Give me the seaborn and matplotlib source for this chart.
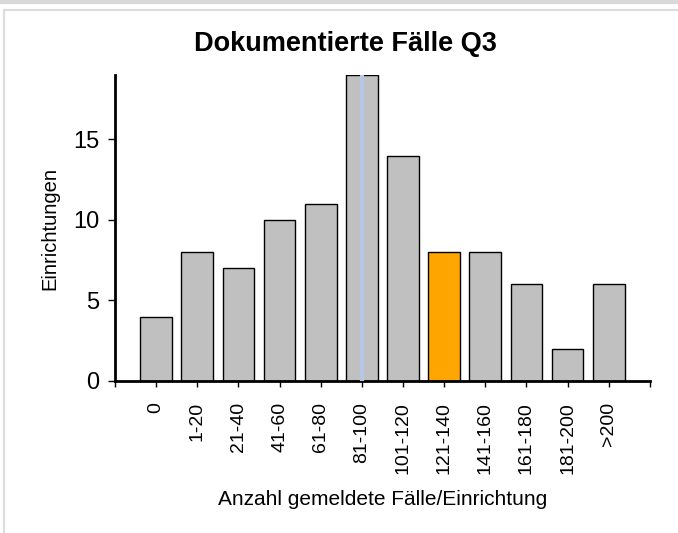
import matplotlib
matplotlib.use("Agg")
import matplotlib.pyplot as plt
import seaborn as sns
from matplotlib.lines import Line2D

# data
categories = ["0", "1-20", "21-40", "41-60", "61-80", "81-100", "101-120",
              "121-140", "141-160", "161-180", "181-200", ">200"]
counts = [4, 8, 7, 10, 11, 19, 14, 8, 8, 6, 2, 6]
highlight = "121-140"
marker_category = "81-100"

sns.set_style("white")
plt.rcParams["font.family"] = ["Liberation Sans", "DejaVu Sans"]
plt.rcParams.update({"text.color": "black", "axes.labelcolor": "black",
                     "xtick.color": "black", "ytick.color": "black"})

fig = plt.figure(figsize=(6.78, 5.33), dpi=100)
ax = fig.add_axes([0.1696, 0.2852, 0.789, 0.574])

colors = {c: ("#ffa500" if c == highlight else "#c0c0c0") for c in categories}
sns.barplot(x=categories, y=counts, hue=categories, palette=colors, legend=False,
            width=0.77, edgecolor="black", linewidth=1, saturation=1, ax=ax)

# light marker line through the 81-100 bar
ax.axvline(categories.index(marker_category), color="#b4c7e7", lw=3, zorder=5)

ax.set_xlim(-1, len(categories))
ax.set_ylim(0, 19)
ax.set_xticks(range(-1, len(categories) + 1))
ax.set_xticklabels([""] + categories + [""], rotation=90, fontsize=14)
ax.set_yticks([0, 5, 10, 15])
ax.tick_params(axis="y", labelsize=17, length=5, width=1, pad=6, direction="out", left=True)
ax.tick_params(axis="x", length=4, width=1, pad=11, direction="out", bottom=True)

for s in ["top", "right"]:
    ax.spines[s].set_visible(False)
for s in ["left", "bottom"]:
    ax.spines[s].set_linewidth(2)
    ax.spines[s].set_color("black")

ax.set_ylabel("Einrichtungen", fontsize=14.5, labelpad=10)
ax.set_xlabel("Anzahl gemeldete Fälle/Einrichtung", fontsize=15, labelpad=12)
fig.text(0.51, 0.917, "Dokumentierte Fälle Q3", ha="center", va="center",
         fontsize=19.5, fontweight="bold")

# panel border from the screenshot
fig.add_artist(Line2D([0, 1], [0.997, 0.997], color="#d9d9d9", lw=3))
fig.add_artist(Line2D([0.006, 1], [0.981, 0.981], color="#dcdcdc", lw=1.5))
fig.add_artist(Line2D([0.006, 0.006], [0, 0.981], color="#dcdcdc", lw=1.5))

fig.savefig("out.png", dpi=100)
